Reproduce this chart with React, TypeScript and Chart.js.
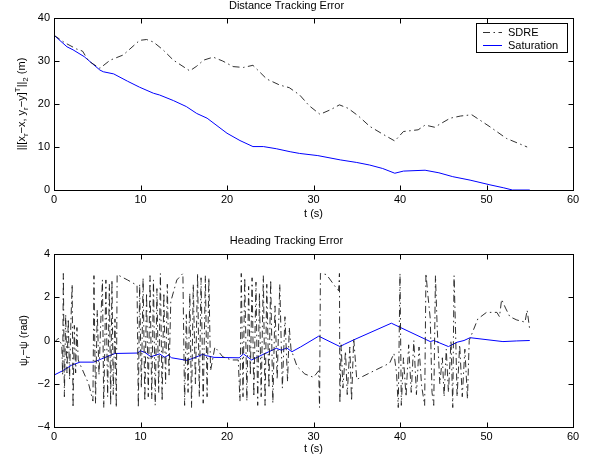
import React, { useEffect, useRef } from "react";
import { Chart, registerables } from "chart.js";

Chart.register(...registerables);

const FONT = "'Liberation Sans', Arial, Helvetica, sans-serif";

// ---------- tick labels ----------
const xTicks = [0, 10, 20, 30, 40, 50, 60];
const distTicks = [0, 10, 20, 30, 40];
const headTicks = [-4, -2, 0, 2, 4];

// ---------- series ----------
const seriesLabels = ["SDRE", "Saturation"];

// Distance tracking error, SDRE
const distSdreT = [0, 1.2, 2.6, 3.3, 4.0, 5.3, 6.5, 8.0, 9.9, 10.7, 11.5, 12.6, 13.8, 15.7, 16.5, 17.3, 18.4, 19.5, 20.7, 21.9, 23.0, 24.6, 26.1, 27.2, 28.4, 29.5, 30.75, 32, 33, 34, 35.2, 36.5, 38, 39.4, 40.4, 42.1, 42.9, 44, 45.8, 47, 48.3, 50.4, 52.3, 54.7];
const distSdreV = [36, 34.3, 32.8, 32.3, 30, 28.3, 30.2, 31.4, 34.8, 35, 34.4, 32.6, 30.2, 27.7, 28.8, 30.2, 30.9, 30, 28.7, 28.5, 29, 25.8, 24.4, 23.8, 22.1, 19.6, 17.6, 18.7, 19.8, 19, 17.2, 14.8, 13, 11.4, 13.6, 14, 15.1, 14.6, 16.7, 17.2, 17.5, 14.7, 12.0, 10];

// Distance tracking error, Saturation
const distSatT = [0, 1.5, 2.2, 3.5, 5.3, 5.7, 6.9, 8.5, 9.9, 11.5, 12.2, 13.8, 15.3, 16.5, 17.7, 20.0, 21.5, 23.0, 24.2, 25.7, 27.3, 28.4, 30.5, 33.1, 35, 36.5, 38, 39.4, 40.4, 42.9, 44.5, 46.1, 48.1, 50.4, 52, 53, 55];
const distSatV = [36, 33.3, 32.6, 31, 27.9, 27.5, 27, 25.3, 23.9, 22.5, 22.1, 20.8, 19.4, 17.8, 16.7, 13.2, 11.5, 10.1, 10.1, 9.6, 8.9, 8.5, 8.0, 7.0, 6.4, 5.8, 5.0, 3.9, 4.4, 4.6, 4.0, 3.1, 2.3, 1.2, 0.5, 0, 0];

// Heading tracking error, SDRE
const headSdreT = [0, 0.5, 0.9, 1.0, 1.08, 1.2, 1.35, 1.5, 1.65, 1.8, 1.95, 2.1, 2.2, 2.35, 2.5, 2.65, 2.8, 2.9, 4.0, 4.5, 4.62, 4.8, 5.0, 5.2, 5.4, 5.6, 5.75, 6.0, 6.2, 6.4, 6.55, 6.7, 6.85, 7.05, 7.2, 7.3, 8.5, 9.6, 9.75, 9.9, 10.1, 10.3, 10.5, 10.7, 10.9, 11.1, 11.3, 11.5, 11.7, 11.9, 12.1, 12.3, 12.5, 12.7, 12.9, 13.1, 13.3, 13.5, 14.2, 14.9, 15.1, 15.3, 15.5, 15.7, 15.9, 16.1, 16.35, 16.6, 16.8, 17.0, 17.25, 17.5, 17.7, 17.9, 18.1, 18.6, 19.5, 20.5, 21.3, 21.5, 21.65, 21.85, 22.05, 22.3, 22.5, 22.7, 22.9, 23.1, 23.35, 23.55, 23.75, 23.95, 24.2, 24.4, 24.6, 24.85, 25.05, 25.3, 25.55, 25.8, 26.1, 26.4, 26.7, 27.0, 27.2, 27.4, 28.1, 29.0, 30.0, 30.6, 30.7, 30.8, 31.5, 32.5, 32.9, 33.0, 33.05, 33.2, 33.4, 33.7, 33.9, 34.2, 34.4, 34.65, 35.0, 37.0, 38.8, 39.3, 39.6, 39.8, 40.0, 40.15, 40.4, 40.7, 41.0, 41.3, 41.6, 41.9, 42.2, 42.5, 42.85, 43.0, 43.2, 43.5, 43.7, 43.9, 44.1, 44.3, 44.6, 44.9, 45.1, 45.35, 45.6, 45.9, 46.1, 46.25, 46.4, 46.6, 46.9, 47.2, 47.5, 47.8, 48.0, 48.5, 49.0, 50.0, 51.2, 51.5, 51.75, 52.2, 52.7, 53.5, 54.45, 54.7, 55.0];
const headSdreV = [-0.1, 0.1, -0.2, -1.6, 3.1, -2.6, 1.2, -1.5, 1.0, -1.8, 0.8, 2.6, -3.1, 0.7, -1.5, 0.6, -0.9, -1.0, -2.0, -2.8, 3.0, -2.9, 1.4, -1.6, 0.8, 2.8, -3.1, 2.8, -2.6, 2.6, -3.0, 2.8, -2.5, 1.0, -3.1, 3.05, 2.8, 2.55, -3.1, 2.6, -2.2, 2.9, -2.8, 2.2, -2.6, 3.0, -2.7, 2.8, -3.0, 2.4, -2.4, 3.1, -2.8, 2.2, -2.0, 2.6, -1.6, 1.8, 2.8, 3.1, -3.0, 1.2, -2.4, 2.2, -3.1, 2.6, -2.0, 3.1, -2.6, 2.9, -2.9, 3.0, -2.6, 2.9, -1.4, -0.3, -0.75, -0.9, -0.9, -2.8, 3.1, -2.6, 2.9, -2.8, 2.5, -1.6, 2.9, -2.6, 2.7, -3.0, 2.2, -2.6, 3.0, -3.0, 2.6, -2.2, 2.8, -2.9, 1.6, -1.8, 2.6, -2.2, 1.1, -1.9, 0.6, -0.4, -1.2, -1.55, -1.7, -1.4, -3.1, 3.1, 3.05, 2.5, 2.3, 3.1, -2.9, -0.2, -2.2, -0.5, -2.5, -0.3, -2.8, 0.1, -1.8, -1.4, -1.05, -0.6, -1.5, -3.1, 3.1, -3.0, -0.8, -2.6, -0.2, -2.4, 0.0, -2.5, -0.3, -2.1, -3.0, 3.1, 2.2, 1.0, -2.4, -3.0, 3.0, 0.6, -2.0, -0.8, -2.6, -0.4, -2.4, 0.0, -3.1, 3.0, 0.8, -2.6, -0.2, -2.6, -0.4, -2.7, 0.0, 0.5, 1.0, 1.3, 1.3, 1.1, 1.9, 1.5, 1.1, 0.95, 0.85, 1.4, 0.5];

// Heading tracking error, Saturation
const headSatT = [0, 1, 2, 3, 4.6, 5.5, 7.05, 9.7, 9.94, 10.5, 11.2, 12.2, 12.8, 13.2, 13.6, 15.4, 16.2, 17.2, 17.6, 18.5, 21.4, 21.9, 22.85, 24.4, 25.7, 26.3, 26.9, 27.5, 28.5, 30.6, 33.05, 33.6, 34.6, 39.0, 43.5, 43.9, 45.6, 46.6, 47.4, 48.1, 51.9, 53.5, 55];
const headSatV = [-1.6, -1.4, -1.15, -1.0, -1.0, -0.85, -0.6, -0.58, -0.47, -0.55, -0.75, -0.62, -0.78, -0.68, -0.8, -0.92, -0.8, -0.64, -0.7, -0.78, -0.8, -0.62, -0.9, -0.6, -0.36, -0.45, -0.34, -0.52, -0.3, 0.2, -0.28, -0.17, 0.02, 0.8, -0.05, 0.0, -0.28, -0.08, 0.0, 0.13, -0.05, -0.02, 0.0];

// ---------- helpers ----------
const pts = (t: number[], v: number[]) => t.map((x, i) => ({ x, y: v[i] }));
const SDRE_DASH = [7, 3.5, 1.5, 3.5];
const minus = (v: number) => String(v).replace("-", "\u2212");

type Part = { t: string; k: "n" | "sub" | "sup" };

function richYLabel(parts: Part[], cx: number) {
  return {
    id: "richYLabel",
    afterDraw(chart: any) {
      const { ctx, chartArea: a } = chart;
      const cy = (a.top + a.bottom) / 2;
      const main = `11px ${FONT}`;
      const small = `8px ${FONT}`;
      ctx.save();
      ctx.setTransform(1, 0, 0, 1, 0, 0);
      ctx.translate(cx, cy);
      ctx.rotate(-Math.PI / 2);
      ctx.fillStyle = "#000";
      ctx.textBaseline = "alphabetic";
      ctx.textAlign = "left";
      let total = 0;
      const widths = parts.map((p) => {
        ctx.font = p.k === "n" ? main : small;
        const w = ctx.measureText(p.t).width;
        total += w;
        return w;
      });
      let x = -total / 2;
      parts.forEach((p, i) => {
        ctx.font = p.k === "n" ? main : small;
        const dy = p.k === "sub" ? 3 : p.k === "sup" ? -5 : 0;
        ctx.fillText(p.t, x, 4 + dy);
        x += widths[i];
      });
      ctx.restore();
    },
  };
}

const framePlugin = {
  id: "matlabFrame",
  afterDraw(chart: any) {
    const { ctx, chartArea: a, scales } = chart;
    const L = Math.round(a.left) + 0.5;
    const R = Math.round(a.right) + 0.5;
    const T = Math.round(a.top) + 0.5;
    const B = Math.round(a.bottom) + 0.5;
    ctx.save();
    ctx.strokeStyle = "#000";
    ctx.lineWidth = 1;
    ctx.setLineDash([]);
    ctx.strokeRect(L, T, R - L, B - T);
    const tl = 5;
    ctx.beginPath();
    for (const tk of scales.x.ticks) {
      const px = Math.round(scales.x.getPixelForValue(tk.value)) + 0.5;
      ctx.moveTo(px, B);
      ctx.lineTo(px, B - tl);
      ctx.moveTo(px, T);
      ctx.lineTo(px, T + tl);
    }
    for (const tk of scales.y.ticks) {
      const py = Math.round(scales.y.getPixelForValue(tk.value)) + 0.5;
      ctx.moveTo(L, py);
      ctx.lineTo(L + tl, py);
      ctx.moveTo(R, py);
      ctx.lineTo(R - tl, py);
    }
    ctx.stroke();
    ctx.restore();
  },
};

const legendPlugin = {
  id: "boxLegend",
  afterDraw(chart: any) {
    const { ctx, chartArea: a } = chart;
    const ds = chart.data.datasets;
    ctx.save();
    ctx.font = `11px ${FONT}`;
    let maxW = 0;
    ds.forEach((d: any) => {
      maxW = Math.max(maxW, ctx.measureText(d.label).width);
    });
    const w = Math.round(7 + 19 + 6 + maxW + 9);
    const h = 29;
    const right = Math.round(a.right) - 6;
    const left = right - w;
    const top = Math.round(a.top) + 5;
    ctx.fillStyle = "#fff";
    ctx.fillRect(left, top, w, h);
    ctx.strokeStyle = "#000";
    ctx.lineWidth = 1;
    ctx.strokeRect(left + 0.5, top + 0.5, w, h);
    ds.forEach((d: any, i: number) => {
      const y = top + 9 + i * 13 + 0.5;
      ctx.beginPath();
      ctx.strokeStyle = d.borderColor;
      ctx.lineWidth = d.borderWidth;
      ctx.setLineDash(d.borderDash || []);
      ctx.moveTo(left + 7, y);
      ctx.lineTo(left + 26, y);
      ctx.stroke();
      ctx.setLineDash([]);
      ctx.fillStyle = "#000";
      ctx.textBaseline = "middle";
      ctx.textAlign = "left";
      ctx.fillText(d.label, left + 32, y);
    });
    ctx.restore();
  },
};

function makeConfig(opts: {
  title: string;
  topPad: number;
  titleGap: number;
  xHeight: number;
  xTitlePadBottom: number;
  yMin: number;
  yMax: number;
  yTicks: number[];
  sdre: { x: number; y: number }[];
  sat: { x: number; y: number }[];
  yLabel: Part[];
  yLabelX: number;
  legend: boolean;
}): any {
  const tickFont = { family: FONT, size: 11 };
  const plugins: any[] = [framePlugin, richYLabel(opts.yLabel, opts.yLabelX)];
  if (opts.legend) plugins.push(legendPlugin);
  return {
    type: "line",
    data: {
      datasets: [
        {
          label: seriesLabels[0],
          data: opts.sdre,
          borderColor: "#1a1a1a",
          borderWidth: 0.9,
          borderDash: SDRE_DASH,
          pointRadius: 0,
          tension: 0,
          fill: false,
        },
        {
          label: seriesLabels[1],
          data: opts.sat,
          borderColor: "#0000ff",
          borderWidth: 1,
          pointRadius: 0,
          tension: 0,
          fill: false,
        },
      ],
    },
    options: {
      animation: false,
      responsive: false,
      devicePixelRatio: 1,
      events: [],
      layout: { padding: { left: 0, right: 23, top: opts.topPad, bottom: 0 } },
      plugins: {
        legend: { display: false },
        tooltip: { enabled: false },
        title: {
          display: true,
          text: opts.title,
          color: "#000",
          font: { family: FONT, size: 11, weight: "normal", lineHeight: 1 },
          padding: { top: 0, bottom: opts.titleGap },
        },
      },
      scales: {
        x: {
          type: "linear",
          min: 0,
          max: 60,
          afterBuildTicks: (s: any) => {
            s.ticks = xTicks.map((v) => ({ value: v }));
          },
          afterFit: (s: any) => {
            s.height = opts.xHeight;
          },
          ticks: {
            color: "#000",
            font: tickFont,
            padding: 3,
            maxRotation: 0,
            autoSkip: false,
            callback: (v: any) => minus(v),
          },
          grid: { display: false, drawTicks: false },
          border: { display: false },
          title: {
            display: true,
            text: "t (s)",
            color: "#000",
            font: { family: FONT, size: 11 },
            padding: { top: 0, bottom: opts.xTitlePadBottom },
          },
        },
        y: {
          type: "linear",
          min: opts.yMin,
          max: opts.yMax,
          afterBuildTicks: (s: any) => {
            s.ticks = opts.yTicks.map((v) => ({ value: v }));
          },
          afterFit: (s: any) => {
            s.width = 54;
          },
          ticks: {
            color: "#000",
            font: tickFont,
            padding: 4,
            autoSkip: false,
            callback: (v: any) => minus(v),
          },
          grid: { display: false, drawTicks: false },
          border: { display: false },
        },
      },
    },
    plugins,
  };
}

function Panel(props: { config: any; top: number; height: number }) {
  const ref = useRef<HTMLCanvasElement | null>(null);
  useEffect(() => {
    if (!ref.current) return;
    const chart = new Chart(ref.current, props.config);
    return () => chart.destroy();
  }, []);
  return (
    <canvas
      ref={ref}
      width={596}
      height={props.height}
      style={{ position: "absolute", left: 0, top: props.top, width: 596, height: props.height, display: "block" }}
    />
  );
}

export default function App() {
  const topConfig = makeConfig({
    title: "Distance Tracking Error",
    topPad: 0,
    titleGap: 7,
    xHeight: 40,
    xTitlePadBottom: 9.5,
    yMin: 0,
    yMax: 40,
    yTicks: distTicks,
    sdre: pts(distSdreT, distSdreV),
    sat: pts(distSatT, distSatV),
    yLabel: [
      { t: "||[x", k: "n" },
      { t: "r", k: "sub" },
      { t: "\u2212x, y", k: "n" },
      { t: "r", k: "sub" },
      { t: "\u2212y]", k: "n" },
      { t: "T", k: "sup" },
      { t: "||", k: "n" },
      { t: "2", k: "sub" },
      { t: " (m)", k: "n" },
    ],
    yLabelX: 21,
    legend: true,
  });
  const bottomConfig = makeConfig({
    title: "Heading Tracking Error",
    topPad: 5.5,
    titleGap: 7.5,
    xHeight: 36,
    xTitlePadBottom: 7.5,
    yMin: -4,
    yMax: 4,
    yTicks: headTicks,
    sdre: pts(headSdreT, headSdreV),
    sat: pts(headSatT, headSatV),
    yLabel: [
      { t: "\u03C8", k: "n" },
      { t: "r", k: "sub" },
      { t: "\u2212\u03C8 (rad)", k: "n" },
    ],
    yLabelX: 23,
    legend: false,
  });
  return (
    <div style={{ position: "fixed", left: 0, top: 0, width: 596, height: 463, background: "#fff" }}>
      <Panel config={topConfig} top={0} height={230} />
      <Panel config={bottomConfig} top={230} height={233} />
    </div>
  );
}
